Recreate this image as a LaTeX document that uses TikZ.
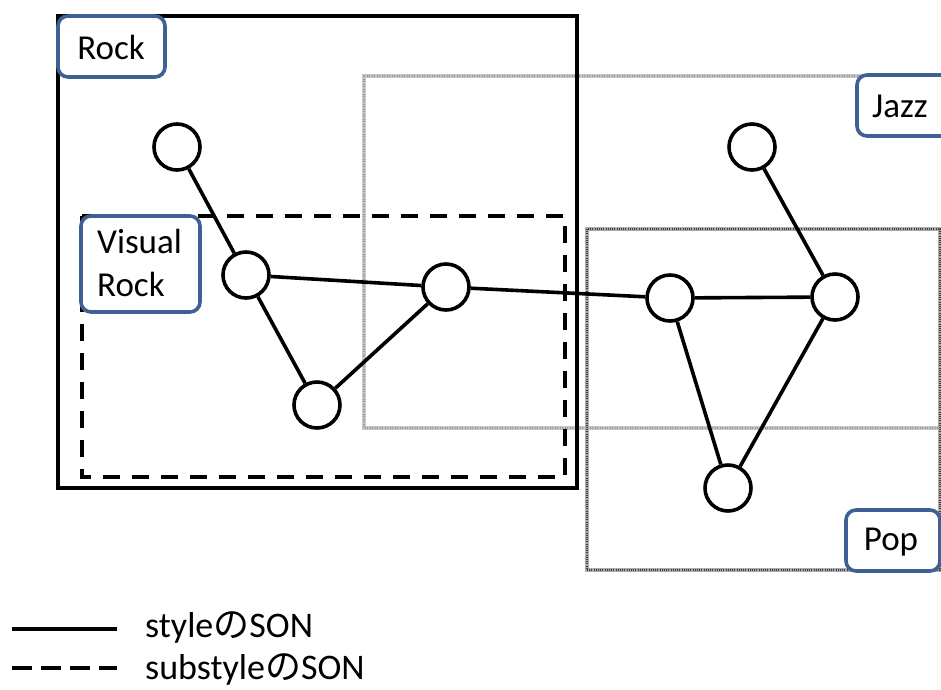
\documentclass[tikz,border=0pt]{standalone}
\usepackage{fontspec}
\setmainfont{Carlito}
\newfontfamily\jpfont{Noto Sans CJK JP}
\begin{document}
\begin{tikzpicture}[x=1pt,y=-1pt,
  son/.style={line width=3.6pt, line join=miter},
  subson/.style={line width=3.6pt, dash pattern=on 17pt off 12pt},
  stylebox/.style={draw=black, line width=3.6pt},
  jazzbase/.style={draw=gray!45, line width=3.6pt},
  jazzdots/.style={draw=gray!80, line width=1.3pt, dash pattern=on 1pt off 1.5pt},
  popbase/.style={draw=gray!65, line width=3.6pt},
  popdots/.style={draw=black!75, line width=1.3pt, dash pattern=on 1pt off 1.2pt},
  vertex/.style={circle, draw=black, fill=white, line width=3.6pt, minimum size=46pt, inner sep=0pt},
  tag/.style={draw=tagblue, fill=white, line width=3.6pt, rounded corners=10pt},
  tagtext/.style={font=\fontsize{35}{43}\selectfont, inner sep=0pt, align=left},
  legendtext/.style={font=\fontsize{36}{43}\selectfont, inner sep=0pt, anchor=base west},
]
\definecolor{tagblue}{HTML}{3E6092}
\useasboundingbox (0,0) rectangle (941,689);
\clip (0,0) rectangle (941,689);

% style SON boxes
\draw[stylebox] (58,16) rectangle (577,488);
\draw[jazzbase] (364,76) rectangle (980,428);
\draw[jazzdots] (364,76) rectangle (980,428);
\draw[popbase] (587,229) rectangle (940,570);
\draw[popdots] (587,229) rectangle (940,570);
% substyle SON box
\draw[subson] (82,216) -- (565,216) -- (565,477) -- (82,477) -- cycle;
% black border of Rock drawn again on top of the grey Jazz edge
\draw[stylebox] (577,16) -- (577,488);

% vertices
\node[vertex] (a) at (177,147) {};
\node[vertex] (b) at (246,275) {};
\node[vertex] (c) at (317,405) {};
\node[vertex] (d) at (446,287) {};
\node[vertex] (e) at (670,298) {};
\node[vertex] (f) at (835,297) {};
\node[vertex] (g) at (752,147) {};
\node[vertex] (h) at (728,488) {};

% edges
\draw[son] (a) -- (b);
\draw[son] (b) -- (d);
\draw[son] (b) -- (c);
\draw[son] (c) -- (d);
\draw[son] (d) -- (e);
\draw[son] (e) -- (f);
\draw[son] (g) -- (f);
\draw[son] (e) -- (h);
\draw[son] (f) -- (h);

% labels
\draw[tag] (58,16) rectangle (165,77);
\node[tagtext] (rock) at (111,47) {Rock};
\draw[tag] (81,216) rectangle (200,312);
\node[tagtext, anchor=north west] (vrock) at (97,229) {Visual\\Rock};
\draw[tag] (857,75) rectangle (960,136);
\node[tagtext, anchor=west] (jazz) at (872,106) {Jazz};
\draw[tag] (846,510) rectangle (940,571);
\node[tagtext] (pop) at (891,542) {Pop};

% legend
\coordinate (l1a) at (12,629);
\coordinate (l1b) at (117,629);
\coordinate (l2a) at (12,668);
\coordinate (l2b) at (117,668);
\draw[son] (l1a) -- (l1b);
\draw[line width=3.6pt, dash pattern=on 20pt off 9pt] (l2a) -- (l2b);
\node[legendtext] (t1) at (145,637) {style{\jpfont の}SON};
\node[legendtext] (t2) at (145,679) {substyle{\jpfont の}SON};
\end{tikzpicture}
\end{document}
